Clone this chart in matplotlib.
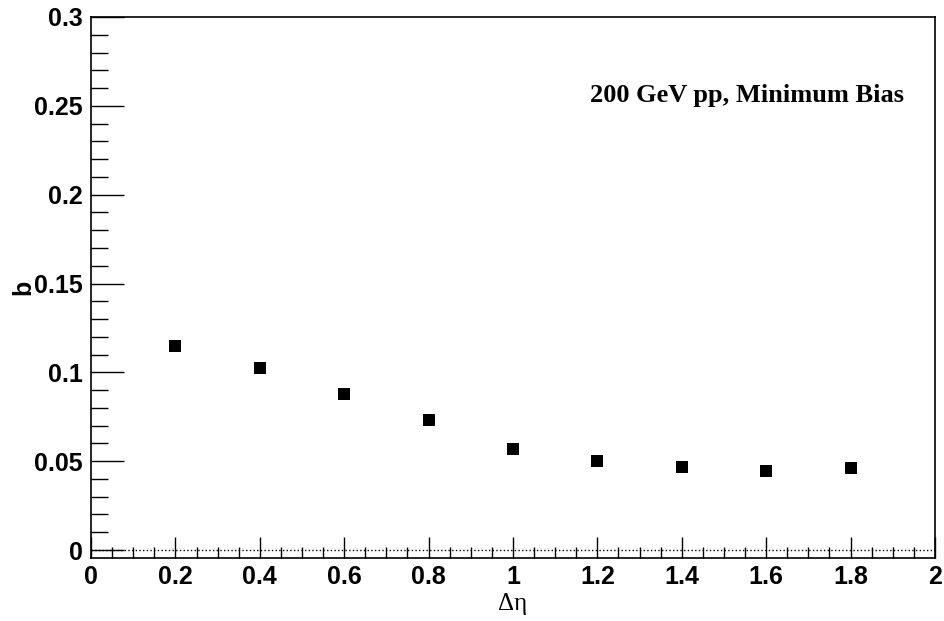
#!/usr/bin/env python3

import numpy as np
import matplotlib.pyplot as plt
from matplotlib.ticker import MultipleLocator

deta = [0.2, 0.4, 0.6, 0.8, 1.0, 1.2, 1.4, 1.6, 1.8]
b = [0.1148, 0.1024, 0.0878, 0.0732, 0.0568, 0.0501, 0.0467, 0.0445, 0.0461]

fig = plt.figure(figsize=(9.45, 6.21), dpi=100)
ax = fig.add_axes([91/945, 1 - 558/621, (935-91)/945, (558-17)/621])

ax.plot(deta, b, 's', color='black', markersize=8, markeredgewidth=0)
ax.axhline(0, color='black', linestyle=':', linewidth=1)

ax.set_xlim(0, 2)
ax.set_ylim(-0.0045, 0.3)
ax.xaxis.set_major_locator(MultipleLocator(0.2))
ax.xaxis.set_minor_locator(MultipleLocator(0.05))
ax.yaxis.set_major_locator(MultipleLocator(0.05))
ax.yaxis.set_minor_locator(MultipleLocator(0.01))
ax.tick_params(which='both', direction='in', top=False, right=False, width=1)
ax.tick_params(axis='x', which='major', length=15)
ax.tick_params(axis='x', which='minor', length=8)
ax.tick_params(axis='y', which='major', length=24)
ax.tick_params(axis='y', which='minor', length=12)
ax.tick_params(axis='both', labelsize=18)
ax.tick_params(axis='y', pad=6)
ax.tick_params(axis='x', pad=5)
for lab in ax.get_xticklabels() + ax.get_yticklabels():
    lab.set_fontfamily('Liberation Sans')
    lab.set_fontweight('bold')
ax.xaxis.set_major_formatter(plt.FuncFormatter(lambda v, p: f'{v:g}'))
ax.yaxis.set_major_formatter(plt.FuncFormatter(lambda v, p: f'{v:g}'))
for s in ax.spines.values():
    s.set_linewidth(1.2)

ax.text(0.5, -0.085, 'Δη', transform=ax.transAxes, ha='center', va='center',
        fontsize=18, family='Liberation Serif')
ax.text(-0.0806, 0.5, 'b', transform=ax.transAxes, ha='center', va='center',
        rotation=90, fontsize=18, fontweight='bold', family='Liberation Sans')

ax.text(0.963, 0.855, '200 GeV pp, Minimum Bias', transform=ax.transAxes,
        ha='right', va='center', fontsize=19, fontweight='bold', family='Liberation Serif')

fig.savefig('out.png', dpi=100)
